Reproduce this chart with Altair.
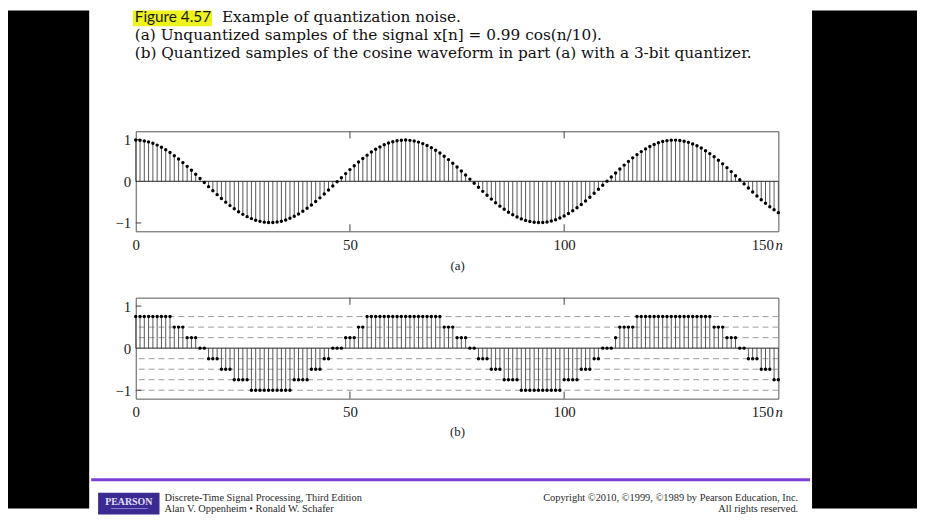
import altair as alt
import pandas as pd

# ---------------- data ----------------
N = list(range(151))
X_VALUES = [
    0.990, 0.985, 0.970, 0.946, 0.912, 0.869, 0.817, 0.757, 0.690, 0.615,
    0.535, 0.449, 0.359, 0.265, 0.168, 0.070, -0.029, -0.128, -0.225, -0.320,
    -0.412, -0.500, -0.583, -0.660, -0.730, -0.793, -0.848, -0.895, -0.933, -0.961,
    -0.980, -0.989, -0.988, -0.978, -0.957, -0.927, -0.888, -0.840, -0.783, -0.719,
    -0.647, -0.569, -0.485, -0.397, -0.304, -0.209, -0.111, -0.012, 0.087, 0.185,
    0.281, 0.374, 0.464, 0.549, 0.628, 0.702, 0.768, 0.826, 0.877, 0.918,
    0.951, 0.973, 0.987, 0.990, 0.983, 0.967, 0.941, 0.905, 0.861, 0.808,
    0.746, 0.678, 0.602, 0.521, 0.434, 0.343, 0.249, 0.152, 0.053, -0.046,
    -0.144, -0.241, -0.336, -0.427, -0.514, -0.596, -0.672, -0.741, -0.803, -0.857,
    -0.902, -0.938, -0.965, -0.982, -0.990, -0.987, -0.975, -0.953, -0.921, -0.880,
    -0.831, -0.773, -0.707, -0.634, -0.555, -0.471, -0.382, -0.288, -0.192, -0.094,
    0.004, 0.103, 0.201, 0.297, 0.389, 0.478, 0.563, 0.641, 0.713, 0.778,
    0.835, 0.884, 0.924, 0.955, 0.976, 0.988, 0.989, 0.981, 0.963, 0.935,
    0.898, 0.852, 0.798, 0.735, 0.665, 0.589, 0.507, 0.419, 0.328, 0.233,
    0.135, 0.037, -0.062, -0.160, -0.257, -0.351, -0.442, -0.528, -0.609, -0.684,
    -0.752,
]
XQ_VALUES = [
    0.75, 0.75, 0.75, 0.75, 0.75, 0.75, 0.75, 0.75, 0.75, 0.5,
    0.5, 0.5, 0.25, 0.25, 0.25, 0.0, 0.0, -0.25, -0.25, -0.25,
    -0.5, -0.5, -0.5, -0.75, -0.75, -0.75, -0.75, -1.0, -1.0, -1.0,
    -1.0, -1.0, -1.0, -1.0, -1.0, -1.0, -1.0, -0.75, -0.75, -0.75,
    -0.75, -0.5, -0.5, -0.5, -0.25, -0.25, 0.0, 0.0, 0.0, 0.25,
    0.25, 0.25, 0.5, 0.5, 0.75, 0.75, 0.75, 0.75, 0.75, 0.75,
    0.75, 0.75, 0.75, 0.75, 0.75, 0.75, 0.75, 0.75, 0.75, 0.75,
    0.75, 0.75, 0.5, 0.5, 0.5, 0.25, 0.25, 0.25, 0.0, 0.0,
    -0.25, -0.25, -0.25, -0.5, -0.5, -0.5, -0.75, -0.75, -0.75, -0.75,
    -1.0, -1.0, -1.0, -1.0, -1.0, -1.0, -1.0, -1.0, -1.0, -1.0,
    -0.75, -0.75, -0.75, -0.75, -0.5, -0.5, -0.5, -0.25, -0.25, 0.0,
    0.0, 0.0, 0.25, 0.5, 0.5, 0.5, 0.5, 0.75, 0.75, 0.75,
    0.75, 0.75, 0.75, 0.75, 0.75, 0.75, 0.75, 0.75, 0.75, 0.75,
    0.75, 0.75, 0.75, 0.75, 0.75, 0.5, 0.5, 0.5, 0.25, 0.25,
    0.25, 0.0, 0.0, -0.25, -0.25, -0.25, -0.5, -0.5, -0.5, -0.75,
    -0.75,
]
LEVELS = [0.75, 0.5, 0.25, -0.25, -0.5, -0.75, -1.0]
X_TICKS = [0, 50, 100, 150]
Y_TICKS = [-1, 0, 1]
INNER_X_TICKS = [50, 100]
INNER_Y_TICKS = [1, -1]
X_DOMAIN = [0, 150]
Y_DOMAIN = [-1.2, 1.2]

HEADER_FIG = "Figure 4.57"
HEADER_LINE1 = "Example of quantization noise."
HEADER_LINE2 = "(a) Unquantized samples of the signal  x[n] = 0.99 cos(n/10)."
HEADER_LINE3 = "(b) Quantized samples of the cosine waveform in part (a) with a 3-bit quantizer."
FOOTER_LEFT = ["Discrete-Time Signal Processing, Third Edition",
               "Alan V. Oppenheim \u2022 Ronald W. Schafer"]
FOOTER_RIGHT = ["Copyright \u00a92010, \u00a91999, \u00a91989 by Pearson Education, Inc.",
                "All rights reserved."]
LOGO = "PEARSON"

# ---------------- styling ----------------
SERIF = "Liberation Serif"
HEAD_FONT = "DejaVu Serif"
HEAD_SIZE = 15.45
W = 649
TL = 0.17  # inner tick length (data units)

df = pd.DataFrame({"n": N, "x": X_VALUES, "xq": XQ_VALUES})
one = pd.DataFrame({"k": [0]})


def panel(field, caption, height, title_pad, with_levels):
    xs = alt.Scale(domain=X_DOMAIN, nice=False, zero=False, padding=0)
    ys = alt.Scale(domain=Y_DOMAIN, nice=False, zero=False, padding=0)
    xaxis = alt.Axis(
        values=X_TICKS, ticks=False, tickSize=0, domain=False, grid=False,
        labelFlush=False, labelFont=SERIF, labelFontSize=15, labelColor="#222",
        labelPadding=6,
        labelAlign={"condition": {"test": "datum.value == 150", "value": "right"}, "value": "center"},
        labelOffset={"condition": {"test": "datum.value == 150", "value": -5}, "value": 0},
        title=caption, titleFont=SERIF, titleFontSize=13, titleFontWeight="normal",
        titleColor="#222", titlePadding=title_pad,
    )
    yaxis = alt.Axis(
        values=Y_TICKS, ticks=False, tickSize=0, domain=False, grid=False,
        labelFont=SERIF, labelFontSize=15, labelColor="#222", labelPadding=5,
        title=None,
    )
    X = lambda f: alt.X(f, scale=xs, axis=xaxis)
    Y = lambda f: alt.Y(f, scale=ys, axis=yaxis)

    layers = []
    if with_levels:
        lv = pd.DataFrame({"lv": LEVELS})
        layers.append(alt.Chart(lv).mark_rule(color="#9c9c9c", strokeWidth=1, strokeDash=[6, 4])
                      .encode(y=Y("lv:Q")))
    stems = alt.Chart(df).mark_rule(color="#575757", strokeWidth=1).encode(
        x=X("n:Q"), y=Y(field + ":Q"), y2=alt.datum(0))
    zero = alt.Chart(pd.DataFrame({"z": [0]})).mark_rule(color="#222", strokeWidth=1).encode(
        y=Y("z:Q"))
    dots = alt.Chart(df).mark_circle(color="black", size=12, opacity=1).encode(
        x=X("n:Q"), y=Y(field + ":Q"))

    vt_rows = []
    for t in INNER_X_TICKS:
        vt_rows.append({"tx": t, "ty0": Y_DOMAIN[1], "ty1": Y_DOMAIN[1] - TL})
        vt_rows.append({"tx": t, "ty0": Y_DOMAIN[0], "ty1": Y_DOMAIN[0] + TL})
    vticks = alt.Chart(pd.DataFrame(vt_rows)).mark_rule(color="#444", strokeWidth=1).encode(
        x=X("tx:Q"), y=Y("ty0:Q"), y2="ty1:Q")
    ht_rows = [{"ty": v, "tx0": X_DOMAIN[0], "tx1": X_DOMAIN[0] + 1.3} for v in INNER_Y_TICKS]
    hticks = alt.Chart(pd.DataFrame(ht_rows)).mark_rule(color="#444", strokeWidth=1).encode(
        x=X("tx0:Q"), x2="tx1:Q", y=Y("ty:Q"))

    nlab = alt.Chart(pd.DataFrame({"nx": [X_DOMAIN[1]], "ny": [Y_DOMAIN[0]]})).mark_text(
        text="n", font=SERIF, fontSize=15, fontStyle="italic", color="#222",
        align="left", baseline="middle", dx=-3, dy=14,
    ).encode(x=X("nx:Q"), y=Y("ny:Q"))

    layers += [stems, zero, vticks, hticks, dots, nlab]
    return alt.layer(*layers).properties(
        width=W, height=height,
        view=alt.ViewBackground(stroke="#555", strokeWidth=1),
    )


# ---------------- header ----------------
hb = alt.Chart(one)
header = alt.layer(
    hb.mark_rect(color="#eef21e").encode(x=alt.value(-3), x2=alt.value(77),
                                         y=alt.value(0), y2=alt.value(16)),
    hb.mark_text(text=HEADER_FIG, font="Lato", fontSize=15.5, color="#1a1a1a",
                 align="left", baseline="top").encode(x=alt.value(-1), y=alt.value(0)),
    hb.mark_text(text=HEADER_LINE1, font=HEAD_FONT, fontSize=HEAD_SIZE, color="#111",
                 align="left", baseline="top").encode(x=alt.value(87), y=alt.value(0)),
    hb.mark_text(text=HEADER_LINE2, font=HEAD_FONT, fontSize=HEAD_SIZE, color="#111",
                 align="left", baseline="alphabetic").encode(x=alt.value(-1), y=alt.value(30)),
    hb.mark_text(text=HEADER_LINE3, font=HEAD_FONT, fontSize=HEAD_SIZE, color="#111",
                 align="left", baseline="alphabetic").encode(x=alt.value(-1), y=alt.value(48)),
).properties(width=W, height=121)

panel_a = panel("x", "(a)", 101, 8, False)
spacer = alt.Chart(one).mark_point(opacity=0).properties(width=W, height=23)
panel_b = panel("xq", "(b)", 102, 6, True)

# ---------------- footer ----------------
fb = alt.Chart(one)
FH = 76
footer = alt.layer(
    fb.mark_rule(color="#7a3fd6", strokeWidth=3).encode(x=alt.value(-45), x2=alt.value(681),
                                                         y=alt.value(41)),
    fb.mark_rect(color="#3b2a91").encode(x=alt.value(-38), x2=alt.value(24),
                                         y=alt.value(54), y2=alt.value(FH)),
    fb.mark_text(text=LOGO, font=SERIF, fontSize=10, fontWeight="bold", color="#e4e0ff",
                 align="center", baseline="middle").encode(x=alt.value(-7), y=alt.value(63)),
    fb.mark_rule(color="#8c7fd8", strokeWidth=1).encode(x=alt.value(-25), x2=alt.value(12),
                                                        y=alt.value(70)),
    fb.mark_text(text=FOOTER_LEFT[0], font=SERIF, fontSize=10.5, color="#2a2a2a",
                 align="left", baseline="middle").encode(x=alt.value(29), y=alt.value(59)),
    fb.mark_text(text=FOOTER_LEFT[1], font=SERIF, fontSize=10.5, color="#2a2a2a",
                 align="left", baseline="middle").encode(x=alt.value(29), y=alt.value(70)),
    fb.mark_text(text=FOOTER_RIGHT[0], font=SERIF, fontSize=10.5, color="#2a2a2a",
                 align="right", baseline="middle").encode(x=alt.value(669), y=alt.value(59)),
    fb.mark_text(text=FOOTER_RIGHT[1], font=SERIF, fontSize=10.5, color="#2a2a2a",
                 align="right", baseline="middle").encode(x=alt.value(669), y=alt.value(70)),
).properties(width=W, height=FH)

middle = alt.vconcat(header, panel_a, spacer, panel_b, footer, spacing=0)

left = alt.Chart(one).mark_point(opacity=0).properties(
    width=82, height=503, view=alt.ViewBackground(fill="black", stroke="black", strokeWidth=0))
right = alt.Chart(one).mark_point(opacity=0).properties(
    width=106, height=503, view=alt.ViewBackground(fill="black", stroke="black", strokeWidth=0))

chart = alt.hconcat(left, middle, right, spacing=0).properties(
    padding=0, background="white"
).configure_view(strokeWidth=0)

chart.save("out.html", embed_options={"renderer": "svg", "actions": False})
